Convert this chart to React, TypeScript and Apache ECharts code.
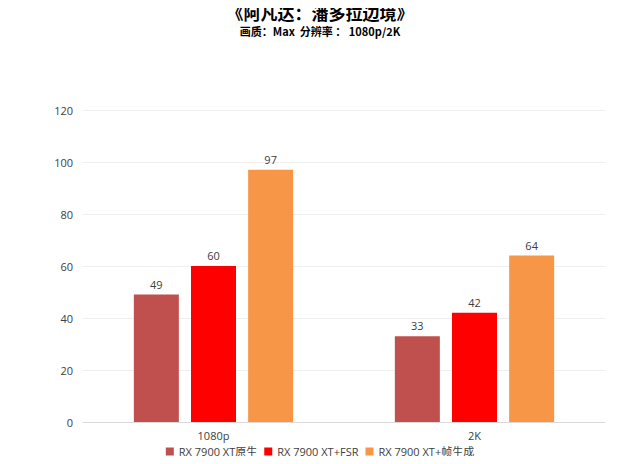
import { useEffect, useRef } from 'react';
import * as echarts from 'echarts';

const categories = ['1080p', '2K'];
const seriesNames = ['RX 7900 XT原生', 'RX 7900 XT+FSR', 'RX 7900 XT+帧生成'];
const native = [49, 33];
const fsr = [60, 42];
const frameGen = [97, 64];
const colors = ['#C0504D', '#FF0000', '#F79646'];

export default function App() {
  const chartRef = useRef(null);

  useEffect(() => {
    const chart = echarts.init(chartRef.current, null, { renderer: 'svg' });
    const font = '"Open Sans", "Noto Sans CJK SC", sans-serif';
    const values = [native, fsr, frameGen];
    const option = {
      animation: false,
      textStyle: { fontFamily: font },
      title: {
        text: '《阿凡达：潘多拉边境》',
        subtext: '画质：Max  分辨率 ： 1080p/2K',
        left: 'center',
        top: 4,
        padding: 0,
        itemGap: 5,
        textStyle: { fontSize: 17, fontWeight: 'bold', color: '#000', fontFamily: '"Noto Sans CJK SC", sans-serif' },
        subtextStyle: { fontSize: 11, fontWeight: 'bold', color: '#000', fontFamily: '"Noto Sans CJK SC", sans-serif' },
      },
      legend: {
        data: seriesNames,
        top: 446,
        left: 'center',
        padding: 0,
        itemWidth: 8,
        itemHeight: 8,
        itemGap: 7,
        icon: 'rect',
        textStyle: { fontSize: 11, color: '#404040', fontFamily: font },
      },
      grid: { left: 83, right: 35, top: 110, bottom: 42 },
      xAxis: {
        type: 'category',
        data: categories,
        axisLine: { lineStyle: { color: '#D9D9D9' } },
        axisTick: { show: false },
        axisLabel: { color: '#404040', fontSize: 11, margin: 8 },
      },
      yAxis: {
        type: 'value',
        min: 0,
        max: 120,
        interval: 20,
        axisLine: { show: false },
        axisTick: { show: false },
        splitLine: { lineStyle: { color: '#EEEEEE' } },
        axisLabel: { color: '#404040', fontSize: 11, margin: 10 },
      },
      series: seriesNames.map((name, i) => ({
        name,
        type: 'bar',
        data: values[i],
        barWidth: 45,
        barGap: '27%',
        itemStyle: { color: colors[i] },
        label: { show: true, position: 'top', color: '#404040', fontSize: 11 },
      })),
    };
    chart.setOption(option);
    return () => {
      chart.dispose();
    };
  }, []);

  return <div ref={chartRef} style={{ width: '640px', height: '464px', margin: '-8px' }} />;
}
